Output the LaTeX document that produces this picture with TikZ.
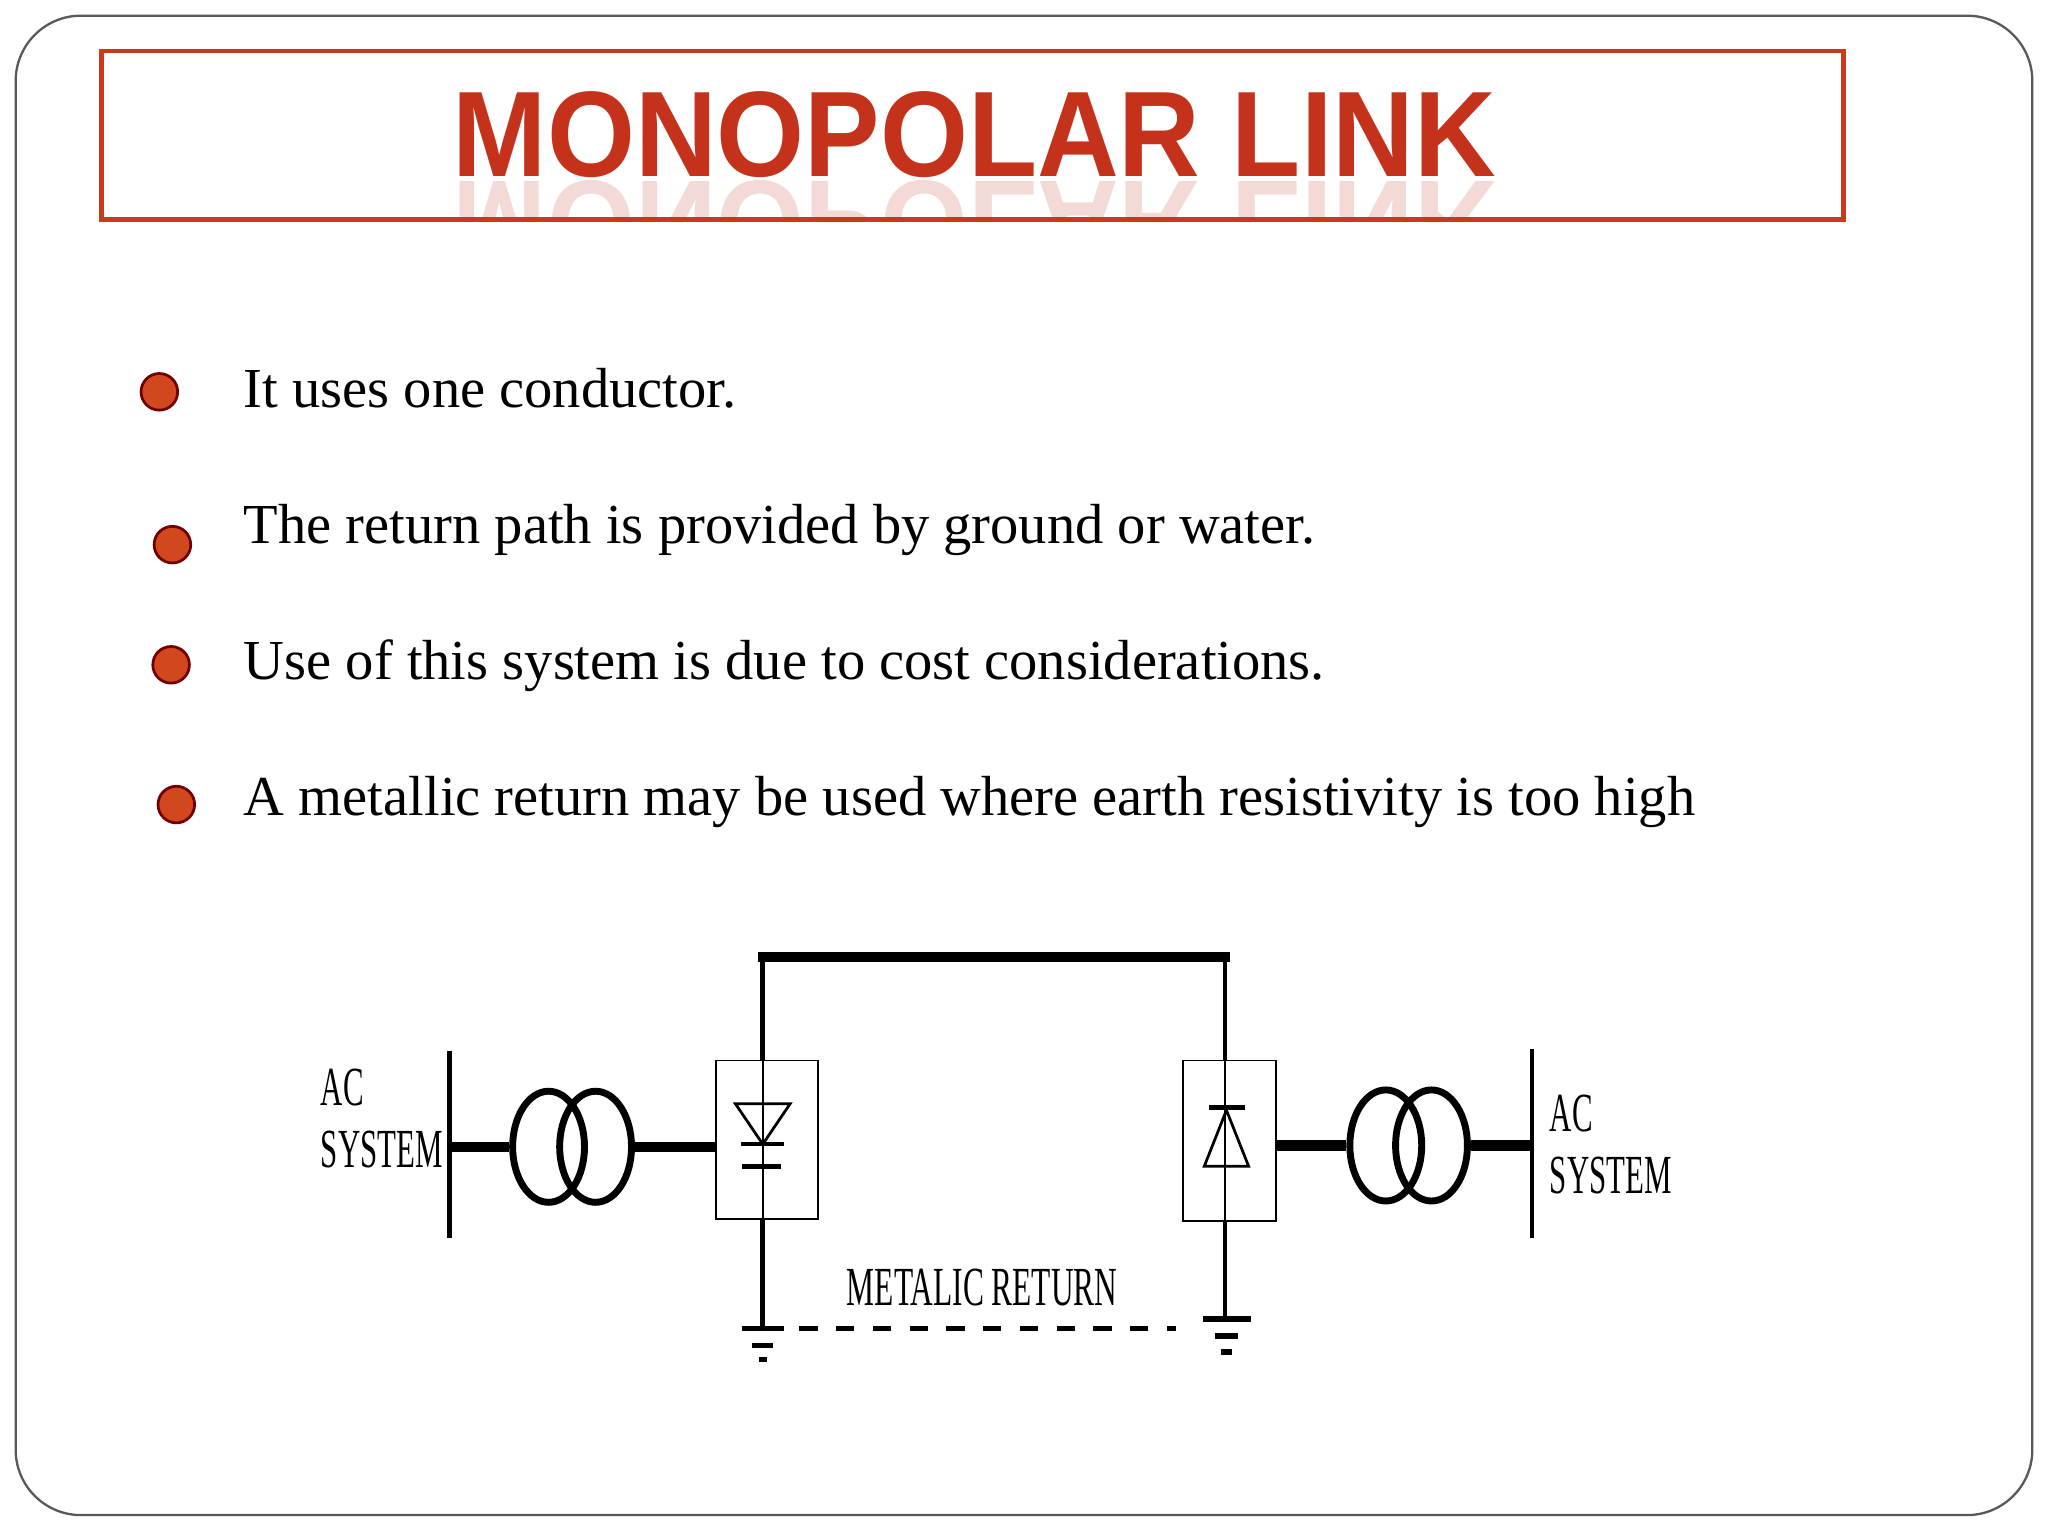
\documentclass[tikz,border=0pt]{standalone}
\usepackage{fontspec}
\usetikzlibrary{shapes.geometric}
\setmainfont{Liberation Serif}
\newfontfamily\titlefont{Liberation Sans}
\definecolor{titlered}{HTML}{C4321C}
\definecolor{bulfill}{HTML}{D2481E}
\begin{document}
\begin{tikzpicture}[x=0.01cm,y=-0.01cm,
  bul/.style={circle,fill=bulfill,draw=red!45!black,line width=0.6pt,minimum size=0.28cm,inner sep=0pt},
  btxt/.style={anchor=base west,inner sep=0pt,font=\fontsize{12.3pt}{14pt}\selectfont},
  lab/.style={inner sep=0pt,font=\fontsize{12pt}{12pt}\selectfont,align=left},
  wire/.style={line width=1pt},
  heavy/.style={line width=2.2pt},
  tr/.style={line width=1.5pt},
  box/.style={draw,line width=0.4pt,inner sep=0pt}]
\useasboundingbox (0,0) rectangle (1568,1176);
\fill[white] (0,0) rectangle (1568,1176);
\draw[gray!70!black,line width=0.5pt,rounded corners=0.5cm] (12,12) rectangle (1556,1160);
% title
\node[draw=titlered!90!orange,line width=1pt,minimum width=13.33cm,minimum height=1.29cm,inner sep=0pt] (tbox) at (744.5,103.5) {};
\begin{scope}
\clip (79,40) rectangle (1410,167);
\node[inner sep=0pt,anchor=south,opacity=0.18,text=titlered,yscale=-1] (trefl) at (746,137) {\resizebox{7.98cm}{0.65cm}{\titlefont\bfseries MONOPOLAR LINK}};
\end{scope}
\node[inner sep=0pt,anchor=south,text=titlered] (title) at (746,137) {\resizebox{7.98cm}{0.65cm}{\titlefont\bfseries MONOPOLAR LINK}};
% bullets
\node[bul] (b1) at (122,300) {};
\node[bul] (b2) at (132,417) {};
\node[bul] (b3) at (131,509) {};
\node[bul] (b4) at (135,616) {};
\node[btxt] (t1) at (186,312) {It uses one conductor.};
\node[btxt] (t2) at (186,416) {The return path is provided by ground or water.};
\node[btxt] (t3) at (186,520) {Use of this system is due to cost considerations.};
\node[btxt] (t4) at (186,624) {A metallic return may be used where earth resistivity is too high};
% diagram left
\coordinate (lbt) at (344,805); \coordinate (lbb) at (344,948);
\draw[wire] (lbt) -- (lbb);
\node[lab,anchor=north west] (lac) at (245,818) {\scalebox{0.56}[1]{\parbox[t]{3cm}{AC\\[1.5pt]SYSTEM}}};
\coordinate (lb) at (344,878);
\node[ellipse,draw,tr,minimum width=0.55cm,minimum height=0.85cm,inner sep=0pt] (lt1) at (420,878) {};
\node[ellipse,draw,tr,minimum width=0.55cm,minimum height=0.85cm,inner sep=0pt] (lt2) at (456,878) {};
\draw[heavy] (lb) -- (lt1.west);
\node[box,minimum width=0.78cm,minimum height=1.21cm] (lc) at (587,872.5) {};
\draw[heavy] (lt2.east) -- (lt2.east -| lc.west);
\coordinate (ltop) at (584,733);
\coordinate (lgnd) at (584,1017);
\draw[wire] (ltop) -- (584,812);
\draw[line width=0.4pt] (584,812) -- (584,933);
\draw[wire] (584,933) -- (lgnd);
\draw[line width=0.6pt] (563,845) -- (605,845) -- (584,876) -- cycle;
\draw[line width=1pt] (567,876) -- (600,876);
\draw[line width=1pt] (568,893) -- (598,893);
\draw[line width=1.2pt] (568,1017) -- (600,1017);
\draw[line width=1.2pt] (576,1030) -- (592,1030);
\draw[line width=1.2pt] (581,1041) -- (587,1041);
% top conductor
\coordinate (rtop) at (938,733);
\draw[heavy,line cap=rect] (ltop) -- (rtop);
% right
\node[box,minimum width=0.71cm,minimum height=1.23cm] (rc) at (941.5,873.5) {};
\coordinate (rgnd) at (938,1010);
\draw[wire] (rtop) -- (938,812);
\draw[line width=0.4pt] (938,812) -- (938,935);
\draw[wire] (938,935) -- (rgnd);
\draw[line width=0.6pt] (922,893) -- (956,893) -- (939,850) -- cycle;
\draw[line width=1pt] (926,848) -- (953,848);
\draw[line width=1.2pt] (921,1010) -- (958,1010);
\draw[line width=1.2pt] (930,1023) -- (948,1023);
\draw[line width=1.2pt] (935,1035) -- (943,1035);
\node[ellipse,draw,tr,minimum width=0.55cm,minimum height=0.85cm,inner sep=0pt] (rt1) at (1061,877) {};
\node[ellipse,draw,tr,minimum width=0.55cm,minimum height=0.85cm,inner sep=0pt] (rt2) at (1096,877) {};
\draw[heavy] (rt1.west -| rc.east) -- (rt1.west);
\coordinate (rbt) at (1173,803); \coordinate (rbb) at (1173,948);
\coordinate (rb) at (1173,877);
\draw[wire] (rbt) -- (rbb);
\draw[heavy] (rt2.east) -- (rb);
\node[lab,anchor=north west] (rac) at (1186,838) {\scalebox{0.56}[1]{\parbox[t]{3cm}{AC\\[1.5pt]SYSTEM}}};
% return
\draw[line width=1pt,dash pattern=on 4pt off 4pt] (612,1017) -- (900,1017);
\node[lab] (mr) at (752,986) {\scalebox{0.57}[1]{METALIC RETURN}};
\end{tikzpicture}
\end{document}
